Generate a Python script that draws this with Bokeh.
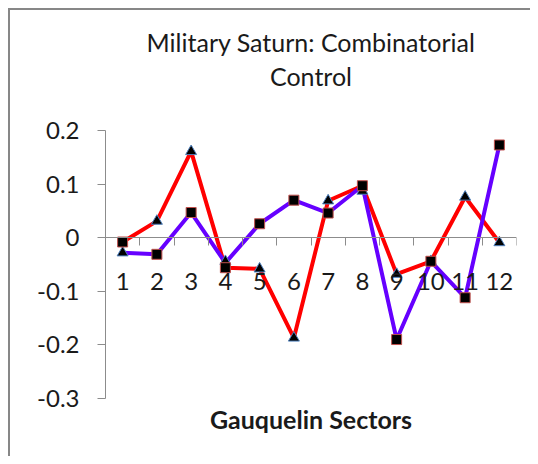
from bokeh.plotting import figure
from bokeh.models import LinearAxis, FixedTicker, Range1d
from bokeh.embed import file_html
from bokeh.resources import INLINE

# ---- data ----
sectors = list(range(1, 13))
sector_labels = [str(s) for s in sectors]
sector_bounds = [s - 0.5 for s in sectors] + [sectors[-1] + 0.5]
red_line = [-0.008, 0.031, 0.161, -0.056, -0.058, -0.187, 0.069, 0.097, -0.068, -0.044, 0.076, -0.009]
purple_line = [-0.028, -0.031, 0.047, -0.047, 0.026, 0.070, 0.046, 0.097, -0.190, -0.044, -0.112, 0.173]
triangle_vals = [-0.028, 0.031, 0.161, -0.044, -0.058, -0.187, 0.069, 0.087, -0.068, -0.044, 0.076, -0.009]
square_vals = [-0.008, -0.031, 0.047, -0.056, 0.026, 0.070, 0.046, 0.097, -0.190, -0.044, -0.112, 0.173]
y_ticks = [0.2, 0.1, 0.0, -0.1, -0.2, -0.3]
y_tick_labels = ["0.2", "0.1", "0", "-0.1", "-0.2", "-0.3"]
title_line1 = "Military Saturn: Combinatorial"
title_line2 = "Control"
x_title = "Gauquelin Sectors"

FONT = "Lato"
AXIS_COLOR = "#8c8c8c"
TEXT_COLOR = "#1a1a1a"
FS = "24px"
BORDER = "#878787"

frame_css = {
    "background": (f"linear-gradient({BORDER},{BORDER}) 8px 8px / 2px 100% no-repeat, "
                   f"linear-gradient({BORDER},{BORDER}) 8px 8px / 100% 2px no-repeat, white"),
}

p = figure(width=530, height=456, output_backend="svg", toolbar_location=None,
           x_range=Range1d(0.5, 12.5), y_range=Range1d(-0.3, 0.2),
           x_axis_type=None, y_axis_type=None,
           min_border_left=105, min_border_right=14, min_border_top=130, min_border_bottom=58,
           background_fill_color="white", border_fill_color=None, border_fill_alpha=0,
           outline_line_color=None, styles=frame_css)
p.grid.visible = False

# title line 1 (outermost)
p.title.text = title_line1
p.title.align = "center"
p.title.text_font = FONT
p.title.text_font_style = "normal"
p.title.text_font_size = "25px"
p.title.text_color = TEXT_COLOR
p.title.standoff = 2

# title line 2 as a label-only axis above the frame
title2_axis = LinearAxis(ticker=FixedTicker(ticks=[]), axis_line_color=None,
                         major_tick_line_color=None, minor_tick_line_color=None,
                         major_tick_out=0, major_label_standoff=0,
                         axis_label=title_line2, axis_label_standoff=40, axis_label_text_font=FONT,
                         axis_label_text_font_style="normal", axis_label_text_font_size="25px",
                         axis_label_text_color=TEXT_COLOR)
p.add_layout(title2_axis, "above")

# y axis
yaxis = LinearAxis(ticker=FixedTicker(ticks=y_ticks),
                   major_label_overrides={v: s for v, s in zip(y_ticks, y_tick_labels)},
                   axis_line_color=AXIS_COLOR, major_tick_line_color=AXIS_COLOR,
                   major_tick_out=8, major_tick_in=0, minor_tick_line_color=None,
                   major_label_standoff=18, major_label_text_font=FONT,
                   major_label_text_font_size=FS, major_label_text_color=TEXT_COLOR)
p.add_layout(yaxis, "left")

# x axis at y=0: labels at sector centres, tick marks at sector boundaries
xaxis = LinearAxis(ticker=FixedTicker(ticks=sectors, minor_ticks=sector_bounds),
                   major_label_overrides={s: l for s, l in zip(sectors, sector_labels)},
                   fixed_location=0, axis_line_color=AXIS_COLOR,
                   major_tick_line_color=None, major_tick_out=0, major_tick_in=0,
                   minor_tick_line_color=AXIS_COLOR, minor_tick_out=8, minor_tick_in=0,
                   major_label_standoff=27, major_label_text_font=FONT,
                   major_label_text_font_size=FS, major_label_text_color=TEXT_COLOR)
p.add_layout(xaxis, "below")

# axis title below the plot
title_axis = LinearAxis(ticker=FixedTicker(ticks=[]), axis_line_color=None,
                        major_tick_line_color=None, minor_tick_line_color=None,
                        major_tick_out=0, major_label_standoff=0,
                        axis_label=x_title, axis_label_standoff=5, axis_label_text_font=FONT,
                        axis_label_text_font_style="bold", axis_label_text_font_size="25px",
                        axis_label_text_color=TEXT_COLOR)
p.add_layout(title_axis, "below")

# series
p.line(sectors, red_line, line_color="#ff0000", line_width=4)
p.line(sectors, purple_line, line_color="#6600ff", line_width=4)
p.scatter(sectors, triangle_vals, marker="triangle", size=11, fill_color="black",
          line_color="#4f81bd", line_width=1)
p.scatter(sectors, square_vals, marker="square", size=10, fill_color="black",
          line_color="#c0504d", line_width=1)

open("out.html", "w").write(file_html(p, INLINE))
